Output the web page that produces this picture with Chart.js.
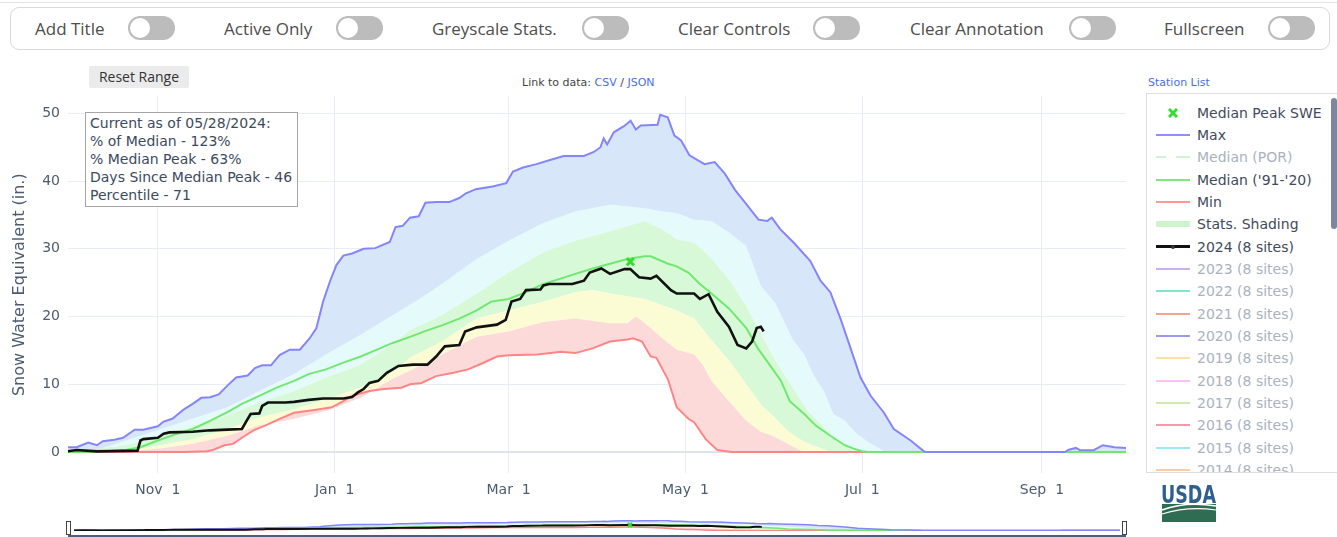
<!DOCTYPE html>
<html>
<head>
<meta charset="utf-8">
<script src="https://cdn.jsdelivr.net/npm/chart.js@4.4.1/dist/chart.umd.min.js"></script>
<style>
  body { margin: 0; width: 1337px; height: 537px; overflow: hidden; background: #fff; position: relative; font-family: "DejaVu Sans", sans-serif; }
  .topline { position: absolute; left: 0; top: 2px; width: 1337px; height: 1px; background: #e4e4e4; }
  .bar { position: absolute; left: 10px; top: 7px; width: 1320px; height: 43px; box-sizing: border-box; border: 1px solid #d9d9d9; border-radius: 9px; }
  .lbl { position: absolute; top: 17px; font-family: "Open Sans", sans-serif; font-size: 17px; line-height: 24px; color: #4d4d4d; white-space: nowrap; }
  .tg { position: absolute; top: 16px; width: 47px; height: 24px; border-radius: 12px; background: #bcbcbc; }
  .tg::after { content: ""; position: absolute; left: 2px; top: 2px; width: 20px; height: 20px; border-radius: 50%; background: #fff; }
  .reset { position: absolute; left: 89px; top: 66px; width: 100px; height: 22px; background: #ebebeb; border-radius: 2px; font-family: "Open Sans", sans-serif; font-size: 14px; line-height: 22px; text-align: center; color: #333; }
  .link { position: absolute; top: 76px; font-size: 11px; line-height: 14px; color: #444; white-space: nowrap; }
  .link span { color: #4a6fe3; }
  #main { position: absolute; left: 0; top: 80px; }
  #mini { position: absolute; left: 68px; top: 514px; }
  .note { position: absolute; left: 85px; top: 112px; width: 213px; height: 95px; box-sizing: border-box; border: 1px solid #a5a5a5; background: #fff; padding: 1px 0 0 4px; font-size: 14px; line-height: 18px; color: #3c4a5e; white-space: nowrap; }
  .legend { position: absolute; left: 1146px; top: 93px; width: 191px; height: 380px; box-sizing: border-box; border: 1px solid #dedede; border-right: none; overflow: hidden; background: #fff; }
  .row { position: absolute; left: 0; width: 191px; height: 18px; }
  .row .txt { position: absolute; left: 50px; top: 0; font-size: 14px; line-height: 18px; white-space: nowrap; }
  .sw { position: absolute; left: 9px; width: 34px; }
  .scroll { position: absolute; left: 184px; top: 4px; width: 6px; height: 131px; border-radius: 3px; background: #7d869a; }
  .handle { position: absolute; top: 521px; width: 3px; height: 12px; border: 1px solid #444; background: #fff; }
  .base { position: absolute; left: 68px; top: 535px; width: 1058px; height: 2px; background: #4f5d7c; }
  .usda { position: absolute; left: 1160px; top: 482px; }
</style>
</head>
<body>
<div class="topline"></div>
<div class="bar"></div>
<div class="lbl" style="left:35px">Add Title</div><div class="tg" style="left:128px"></div>
<div class="lbl" style="left:224px">Active Only</div><div class="tg" style="left:336px"></div>
<div class="lbl" style="left:432px">Greyscale Stats.</div><div class="tg" style="left:582px"></div>
<div class="lbl" style="left:678px">Clear Controls</div><div class="tg" style="left:813px"></div>
<div class="lbl" style="left:910px">Clear Annotation</div><div class="tg" style="left:1069px"></div>
<div class="lbl" style="left:1164px">Fullscreen</div><div class="tg" style="left:1268px"></div>

<div class="reset">Reset Range</div>
<div class="link" style="left:522px">Link to data: <span>CSV</span> / <span>JSON</span></div>
<div class="link" style="left:1148px"><span>Station List</span></div>

<canvas id="main" width="1140" height="430"></canvas>
<canvas id="mini" width="1058" height="23"></canvas>
<div class="base"></div>
<div class="handle" style="left:66px"></div>
<div class="handle" style="left:1122px"></div>

<div class="note">Current as of 05/28/2024:<br>% of Median - 123%<br>% Median Peak - 63%<br>Days Since Median Peak - 46<br>Percentile - 71</div>

<div class="legend" id="legend"><div class="scroll"></div></div>

<svg class="usda" width="58" height="42">
  <text x="1" y="21" font-family="Liberation Sans Narrow, DejaVu Sans Condensed, sans-serif" font-weight="bold" font-size="25" fill="#2f5f8f" textLength="55" lengthAdjust="spacingAndGlyphs">USDA</text>
  <rect x="2" y="22" width="54" height="18" fill="#2f6d52"/>
  <path d="M2 28 Q 26 19 56 24" stroke="#fff" stroke-width="1.6" fill="none"/>
  <path d="M2 32 Q 28 24 56 28" stroke="#fff" stroke-width="1.1" fill="none"/>
</svg>

<script>
// water-year day (0 = Oct 1, 365 = Sep 30) and SWE in inches
const tickDays = [31, 92, 152, 213, 274, 336];
const tickLabels = ['Nov  1', 'Jan  1', 'Mar  1', 'May  1', 'Jul  1', 'Sep  1'];
const yTicks = [0, 10, 20, 30, 40, 50];

const minSeries = [[0,0],[40,0],[48,0.1],[50,0.3],[54,1.0],[57,1.2],[60,2.1],[64,3.2],[68,3.9],[73,4.9],[78,5.8],[85,6.2],[91,6.6],[95,7.5],[98,8.3],[104,9.0],[109,9.3],[115,9.5],[118,10.0],[122,10.2],[127,11.2],[133,11.7],[138,12.2],[143,13.1],[148,14.1],[152,14.3],[162,14.4],[170,14.8],[175,14.6],[181,15.3],[187,16.3],[193,16.6],[195,16.8],[198,16.3],[201,14.1],[203,13.9],[207,10.7],[210,6.6],[214,4.9],[216,4.4],[220,1.9],[224,0.3],[229,0],[365,0]];

const p10Series = [[0,0],[20,0.1],[32,0.5],[43,1.2],[55,2.4],[66,3.9],[78,4.9],[89,6.1],[101,8.0],[112,10.8],[118,12.0],[129,14.4],[141,17.0],[152,17.8],[164,19.2],[175,19.7],[187,19.0],[193,19.0],[196,20.0],[201,18.3],[205,16.8],[210,15.1],[216,14.4],[219,12.9],[222,10.5],[228,7.5],[234,4.6],[239,3.0],[243,2.4],[247,1.5],[251,0.6],[254,0],[365,0]];

const p30Series = [[0,0],[20,0.1],[32,1.0],[43,1.9],[55,3.4],[66,5.1],[78,6.3],[89,7.8],[101,9.5],[112,11.8],[118,13.9],[129,16.3],[141,19.7],[152,20.9],[164,22.2],[175,23.6],[181,23.9],[187,23.4],[199,22.6],[210,20.9],[216,19.7],[221,17.0],[228,13.5],[234,10.0],[239,7.0],[244,5.0],[248,3.2],[252,2.0],[256,1.1],[260,0.5],[263,0],[365,0]];

const p70Series = [[0,0],[20,1.0],[32,2.4],[43,3.7],[55,5.4],[66,7.3],[78,9.0],[89,11.0],[101,12.9],[112,16.0],[118,18.0],[129,20.2],[141,23.4],[152,26.5],[164,29.5],[175,31.2],[187,32.6],[199,34.1],[205,32.9],[210,31.4],[216,30.9],[221,29.0],[228,25.5],[234,21.5],[239,17.5],[244,13.5],[250,9.5],[255,6.2],[260,4.0],[264,2.2],[269,0.7],[272,0],[365,0]];

const p90Series = [[0,0],[10,0.3],[20,1.7],[32,3.4],[43,4.9],[55,6.6],[66,9.0],[78,11.5],[89,14.4],[101,17.3],[112,20.2],[121,22.5],[129,24.8],[141,28.5],[152,31.2],[164,33.8],[175,35.5],[187,36.5],[199,36.0],[205,35.5],[210,35.3],[216,34.3],[222,34.1],[228,32.4],[234,30.4],[239,24.5],[244,22.0],[247,19.3],[250,16.6],[254,14.4],[257,11.5],[261,8.8],[264,5.6],[268,4.6],[272,2.7],[277,1.2],[282,0],[365,0]];

const maxSeries = [[0,0.7],[3,0.7],[7,1.4],[10,1.0],[12,1.6],[16,1.8],[19,2.1],[23,3.3],[26,3.3],[31,3.8],[33,4.5],[36,4.9],[40,6.3],[43,7.1],[46,8.0],[49,8.1],[52,8.5],[55,9.8],[58,11.0],[62,11.3],[64.5,12.4],[67,12.8],[70,12.8],[73,14.3],[76.5,15.1],[80,15.1],[83.4,16.8],[85.7,18.3],[88,22.2],[90.3,25.1],[92.6,27.6],[95,29.0],[98,29.3],[102,30.0],[106,30.1],[111,31.0],[113,33.2],[115.5,33.4],[118,34.6],[121,34.8],[123.3,36.8],[127,36.9],[131.5,36.9],[135,37.5],[137.3,38.2],[140.7,38.8],[146.5,39.2],[151.2,39.7],[153.5,41.4],[157,42.0],[161.6,42.5],[166.3,43.1],[171,43.7],[178,43.7],[181.4,44.3],[183.7,45.0],[184.8,46.3],[186,45.4],[188.3,47.2],[191.8,48.1],[194.1,48.9],[195.9,47.6],[197.6,48.2],[203.4,48.3],[204.3,49.8],[206.9,49.4],[209.2,46.7],[211.5,46.0],[214.4,43.8],[219.6,42.5],[223.1,42.8],[226.6,41.1],[230.1,38.7],[233.6,36.8],[238.2,34.3],[241.2,34.1],[242.8,34.6],[245.7,32.9],[250.4,30.9],[256.1,28.2],[259.6,25.3],[263,23.6],[266.5,19.7],[270,15.3],[273.4,11.0],[276.9,8.3],[281.5,5.8],[284.9,3.4],[290.7,1.7],[295.3,0.1],[296,0],[344,0],[345,0.3],[347.7,0.6],[349,0.3],[352,0.25],[354,0.3],[357,1.0],[361,0.7],[365,0.6]];

const medianSeries = [[0,0],[10,0.05],[20,0.3],[25,0.7],[31,1.7],[37,2.6],[43,3.4],[49,4.6],[55,5.9],[60,7.1],[66,8.3],[72,9.5],[78,10.5],[83,11.5],[89,12.2],[95,13.2],[101,14.1],[106,15.0],[112,16.1],[118,17.0],[123,17.8],[129,18.7],[135,19.7],[141,20.9],[146,22.2],[152,22.6],[158,23.6],[164,24.8],[170,25.6],[175,26.3],[181,27.1],[187,27.8],[193,28.5],[199,28.9],[201,28.9],[207,27.8],[210,27.4],[214,26.5],[218,24.8],[222,23.4],[228,21.2],[234,18.3],[238,15.3],[242,12.9],[246,10.5],[249,7.5],[254,5.6],[258,3.9],[263,2.4],[268,1.0],[271,0.5],[274,0.1],[276,0],[365,0]];

const wy2024Series = [[0,0.1],[3,0.3],[10,0.1],[24,0.2],[25,1.7],[26,1.9],[31,2.1],[33,2.7],[35,2.9],[43,3.0],[49,3.2],[55,3.3],[60,3.4],[61.6,4.6],[63,5.6],[66,5.7],[67,6.8],[69,7.3],[75,7.3],[78,7.4],[83,7.7],[88,7.9],[95,7.9],[98,8.1],[100,8.8],[102,9.3],[104,10.2],[107,10.5],[110,11.7],[114,12.7],[119,12.9],[124,12.9],[127,14.1],[130,15.6],[135,15.8],[137,17.8],[141,18.4],[148,18.8],[151,19.5],[153,22.2],[156,22.6],[158,23.9],[163,24.0],[164,24.6],[166,24.8],[174,24.8],[178,25.3],[180,26.5],[182,26.8],[184,27.1],[187,26.3],[192,27.0],[194,27.0],[197,25.8],[201,25.6],[203,26.0],[208,23.9],[210,23.4],[216,23.4],[218,22.6],[221,23.3],[224,20.7],[228,18.5],[231,15.8],[234,15.3],[236,16.3],[237.6,18.3],[239,18.5],[240,17.8]];

const medianPeak = [194, 28.1];

const legendNames = ['Median Peak SWE', 'Max', 'Median (POR)', "Median ('91-'20)", 'Min', 'Stats. Shading', '2024 (8 sites)', '2023 (8 sites)', '2022 (8 sites)', '2021 (8 sites)', '2020 (8 sites)', '2019 (8 sites)', '2018 (8 sites)', '2017 (8 sites)', '2016 (8 sites)', '2015 (8 sites)', '2014 (8 sites)'];
const legendColors = ['#2fe02f', '#8f8ff5', '#d2f3d2', '#7ee87e', '#fb9999', '#cdf5cd', '#111111', '#c9b0f0', '#86e4c4', '#f4a490', '#9a9af4', '#fde0a4', '#fbc3f5', '#cfeab0', '#f49aaa', '#98eaf6', '#fdcaa8'];
const legendActive = [1, 1, 0, 1, 1, 1, 1, 0, 0, 0, 0, 0, 0, 0, 0, 0, 0];

const pts = s => s.map(p => ({ x: p[0], y: p[1] }));
const axisColor = '#4c5b70';
const gridColor = '#e8edf5';

function buildSets(lw, markerSize) {
  const band = (series, color) => ({ data: pts(series), borderWidth: 0, borderColor: 'transparent', backgroundColor: color, fill: '-1', order: 9 });
  return [
    { data: pts(minSeries), borderColor: '#ff8585', borderWidth: lw, fill: false, order: 6 },
    band(p10Series, '#fcdada'),
    band(p30Series, '#fbfbd4'),
    band(p70Series, '#d7f9d7'),
    band(p90Series, '#e5fbfb'),
    { data: pts(maxSeries), borderColor: '#8585fb', borderWidth: lw, backgroundColor: '#d8e6fa', fill: '-1', order: 3 },
    { data: pts(medianSeries), borderColor: '#6fe86f', borderWidth: lw, fill: false, order: 4 },
    { data: pts(wy2024Series), borderColor: '#111', borderWidth: lw * 1.3, fill: false, order: 2 },
    { type: 'scatter', data: [{ x: medianPeak[0], y: medianPeak[1] }], pointStyle: 'crossRot', pointRadius: markerSize, pointBorderWidth: markerSize > 3 ? 3 : 2, borderColor: '#2fe02f', backgroundColor: '#2fe02f', order: 1 }
  ];
}

const basePlugins = { legend: { display: false }, tooltip: { enabled: false }, filler: { drawTime: 'beforeDatasetsDraw' } };

new Chart(document.getElementById('main'), {
  type: 'line',
  data: { datasets: buildSets(2, 5) },
  options: {
    responsive: false,
    animation: false,
    events: [],
    layout: { padding: { left: 0, right: 14, top: 12, bottom: 0 } },
    elements: { point: { radius: 0 }, line: { tension: 0 } },
    plugins: basePlugins,
    scales: {
      x: {
        type: 'linear', min: 0, max: 365,
        grid: { color: gridColor, drawTicks: false },
        border: { display: false },
        afterBuildTicks: axis => { axis.ticks = tickDays.map(v => ({ value: v })); },
        afterFit: axis => { axis.height = 37; },
        ticks: {
          autoSkip: false, maxRotation: 0, padding: 9, color: axisColor,
          font: { family: 'DejaVu Sans', size: 14 },
          callback: (v, i) => tickLabels[i]
        }
      },
      y: {
        min: -3.1, max: 52.5,
        grid: {
          drawTicks: false,
          color: ctx => ctx.tick && ctx.tick.value === 0 ? '#dde4ee' : gridColor,
          lineWidth: ctx => ctx.tick && ctx.tick.value === 0 ? 2 : 1
        },
        border: { display: false },
        afterBuildTicks: axis => { axis.ticks = yTicks.map(v => ({ value: v })); },
        afterFit: axis => { axis.width = 68; },
        ticks: { padding: 8, color: axisColor, font: { family: 'DejaVu Sans', size: 14 } },
        title: {
          display: true, text: 'Snow Water Equivalent (in.)', color: axisColor,
          font: { family: 'DejaVu Sans', size: 16 }, padding: { top: 10, bottom: 0 }
        }
      }
    }
  }
});

// range slider preview
new Chart(document.getElementById('mini'), {
  type: 'line',
  data: { datasets: buildSets(1.5, 3) },
  options: {
    responsive: false,
    animation: false,
    events: [],
    layout: { padding: 0 },
    elements: { point: { radius: 0 }, line: { tension: 0 } },
    plugins: basePlugins,
    scales: {
      x: { type: 'linear', min: 0, max: 365, display: false },
      y: { min: -3.1, max: 52.5, display: false }
    }
  }
});

// legend panel
const legend = document.getElementById('legend');
legendNames.forEach((name, i) => {
  const row = document.createElement('div');
  row.className = 'row';
  row.style.top = (111.7 + i * 22.33 - 93 - 9) + 'px';
  const c = legendColors[i];
  let sym;
  if (i === 0) {
    sym = '<svg class="sw" style="top:4px;left:21px;width:10px" width="10" height="10"><path d="M1 1L9 9M9 1L1 9" stroke="' + c + '" stroke-width="3"/></svg>';
  } else if (i === 2) {
    sym = '<div class="sw" style="top:8px;height:2px;background:linear-gradient(90deg,' + c + ' 0 10px,transparent 10px 20px,' + c + ' 20px 34px)"></div>';
  } else if (i === 5) {
    sym = '<div class="sw" style="top:6px;height:6px;background:' + c + '"></div>';
  } else if (i === 6) {
    sym = '<div class="sw" style="top:7.5px;height:3px;background:' + c + '"></div><div style="position:absolute;left:24px;top:7px;width:4px;height:4px;border-radius:2px;background:#333"></div>';
  } else {
    sym = '<div class="sw" style="top:8px;height:2px;background:' + c + '"></div>';
  }
  row.innerHTML = sym + '<div class="txt" style="color:' + (legendActive[i] ? '#3f4b5d' : '#aab2bf') + '">' + name + '</div>';
  legend.appendChild(row);
});
</script>
</body>
</html>
